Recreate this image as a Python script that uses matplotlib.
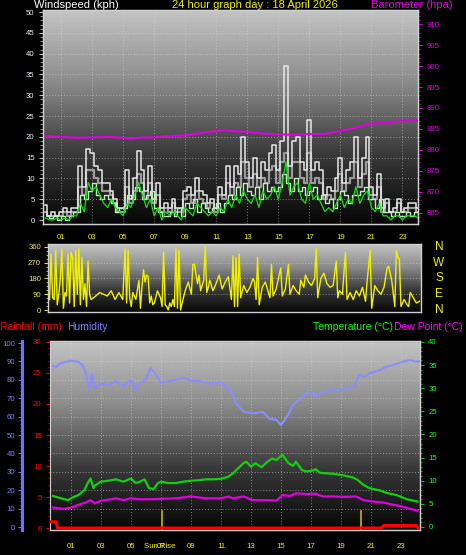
import numpy as np
import matplotlib
matplotlib.use("Agg")
import matplotlib.pyplot as plt
from matplotlib.colors import LinearSegmentedColormap
from matplotlib.ticker import MultipleLocator, FixedLocator
import matplotlib.transforms as mtransforms

plt.rcParams['font.family'] = ['Liberation Sans', 'DejaVu Sans']

# ---------------- DATA ----------------
title_text = "24 hour graph day : 18 April 2026"
hour_ticks = [1, 3, 5, 7, 9, 11, 13, 15, 17, 19, 21, 23]
hour_labels = ["01", "03", "05", "07", "09", "11", "13", "15", "17", "19", "21", "23"]

wind_t = np.arange(0, 24.01, 0.25)
wind_gust = [3.5, 1, 2, 1,  2, 3, 2, 3,  3, 13, 8, 17,  16, 13, 12, 9,
             9, 7, 5, 3,  3, 12, 5, 10,  16.5, 12, 7, 13,  5, 9, 3, 4,
             3, 5, 3, 3,  7, 8, 6, 10,  7, 6, 4, 5,  3, 8, 6, 13,
             8, 13, 11, 20,  14, 10, 15, 10,  14, 12, 16, 18,  12, 19, 37, 13,
             19, 20, 14, 12,  24, 12, 14, 12,  6, 8, 7, 10,  15, 9, 12, 14,
             20, 10, 15, 20,  8, 6, 11, 3,  5, 2, 3, 5,  2, 3, 4, 4,  3]
wind_gust_avg = [2, 1, 1, 1,  1, 2, 1, 2,  2, 8, 6, 12,  12, 10, 9, 7,
                 7, 6, 4, 2,  2, 8, 4, 7,  11, 9, 5, 9,  4, 6, 2, 3,
                 2, 4, 2, 2,  5, 6, 4, 7,  5, 4, 3, 4,  2, 6, 5, 9,
                 6, 9, 8, 14,  10, 8, 11, 8,  10, 9, 12, 13,  9, 14, 16, 10,
                 14, 14, 10, 9,  16, 9, 10, 9,  5, 6, 5, 7,  11, 7, 9, 10,
                 14, 8, 11, 14,  6, 5, 8, 2,  4, 2, 2, 4,  2, 2, 3, 3,  2]
wind_speed = [1, 0.5, 1, 0,  1, 0, 1, 2,  2, 6, 5, 7,  9, 6, 5, 6,
              5, 4, 2, 3,  3, 6, 5, 8,  7, 5, 6, 7,  3, 2, 1, 1,
              2, 1, 3, 1,  4, 3, 5, 2,  4, 3, 2, 3,  4, 2, 4, 6,
              5, 8, 6, 9,  7, 6, 8, 5,  9, 7, 8, 7,  8, 11, 9, 7,
              10, 7, 8, 6,  7, 8, 5, 6,  4, 5, 3, 5,  7, 6, 4, 6,
              6, 7, 8, 5,  5, 3, 5, 2,  2, 1, 2, 1,  1, 2, 1, 2,  1]
wind_avg = [0.5, 0, 0, 0.5,  0, 0.5, 0, 1,  1, 4, 2, 9,  7, 8, 6, 4,
            3, 5, 3, 2,  1, 4, 3, 6,  9, 6, 3, 5,  1, 3, 0, 2,
            1, 2, 1, 0,  3, 2, 1, 4,  3, 2, 1, 2,  1, 3, 2, 5,
            3, 6, 4, 7,  5, 4, 6, 3,  7, 5, 6, 8,  5, 9, 14, 6,
            8, 9, 5, 4,  9, 5, 6, 4,  2, 3, 2, 4,  6, 3, 5, 4,
            8, 4, 6, 7,  3, 2, 4, 1,  1, 0, 1, 1,  0, 1, 1, 1,  0.5]

baro_t = [0, 1, 2, 3, 4, 5, 5.5, 6, 7, 8, 9, 10, 11, 11.5, 12, 13, 14, 15, 16,
          17, 18, 19, 20, 21, 22, 23, 24]
baro = [883.3, 883.1, 882.9, 883.0, 883.1, 882.9, 882.7, 882.9, 883.0, 883.3,
        883.5, 884.0, 884.5, 884.7, 884.5, 884.3, 883.9, 883.7, 883.6, 883.8,
        883.8, 884.5, 885.3, 886.3, 886.5, 886.9, 887.0]

dir_t = [0.0, 0.1, 0.2, 0.3, 0.4, 0.5, 0.6, 0.7, 0.8, 0.9, 1.0, 1.1, 1.2, 1.3, 1.4,
         1.5, 1.6, 1.7, 1.8, 1.9, 2.0, 2.1, 2.2, 2.3, 2.4, 2.5, 2.6, 2.7, 3.0, 3.25,
         3.5, 3.75, 4.0, 4.25, 4.5, 4.75, 4.9, 5.0, 5.1, 5.2, 5.3, 5.4, 5.6, 5.8,
         5.9, 6.0, 6.1, 6.2, 6.3, 6.4, 6.5, 6.6, 6.7, 6.8, 7.0, 7.2, 7.3, 7.4, 7.5,
         7.6, 7.7, 7.8, 7.9, 8.0, 8.1, 8.2, 8.3, 8.4, 8.5, 8.6, 8.8, 9.0, 9.2, 9.3,
         9.4, 9.6, 9.7, 9.8, 10.0, 10.1, 10.2, 10.3, 10.4, 10.6, 10.8, 11.0, 11.2,
         11.4, 11.6, 11.8, 11.9, 12.0, 12.1, 12.2, 12.3, 12.4, 12.6, 12.8, 13.0,
         13.2, 13.3, 13.4, 13.5, 13.6, 13.8, 14.0, 14.2, 14.3, 14.4, 14.5, 14.7,
         14.8, 15.0, 15.1, 15.3, 15.5, 15.6, 15.8, 16.0, 16.2, 16.3, 16.5, 16.6,
         16.8, 17.0, 17.2, 17.3, 17.4, 17.6, 17.8, 18.0, 18.2, 18.4, 18.6, 18.7,
         18.8, 19.0, 19.2, 19.3, 19.5, 19.7, 19.9, 20.1, 20.3, 20.5, 20.6, 20.8,
         20.9, 21.1, 21.3, 21.5, 21.7, 21.9, 22.0, 22.2, 22.4, 22.5, 22.6, 22.7,
         22.8, 23.0, 23.2, 23.3, 23.4, 23.6, 23.8, 24.0]
dir_deg = [60, 320, 70, 60, 340, 30, 90, 180, 350, 10, 100, 80, 320, 40, 330,
           300, 20, 340, 90, 350, 30, 300, 60, 150, 20, 280, 90, 60, 80, 100,
           90, 80, 110, 60, 100, 60, 350, 40, 340, 70, 20, 100, 60, 170,
           10, 140, 230, 160, 200, 190, 40, 80, 30, 40, 110, 70, 20, 330, 30,
           20, 0, 40, 20, 60, 20, 350, 10, 340, 0, 40, 110, 160, 90, 260,
           260, 150, 200, 110, 170, 360, 100, 130, 170, 110, 150, 200, 120,
           160, 190, 60, 310, 20, 300, 20, 320, 70, 140, 100, 130,
           180, 160, 60, 300, 30, 130, 160, 100, 70, 260, 80, 120,
           160, 240, 80, 120, 260, 90, 140, 110, 90, 170, 130, 200,
           160, 140, 180, 350, 70, 180, 210, 150, 130, 140, 280, 70,
           110, 90, 330, 60, 100, 60, 110, 80, 130, 50, 160, 340,
           10, 140, 110, 90, 130, 240, 250, 170, 20, 340, 300, 290,
           20, 60, 30, 20, 100, 70, 40, 50]

hum_t = [-0.2, 0.0, 0.3, 0.5, 1.0, 1.5, 1.8, 2.0, 2.2, 2.4, 2.6, 3.0, 3.5, 4.0, 4.5,
         5.0, 5.3, 5.6, 6.0, 6.3, 6.6, 7.0, 7.5, 8.0, 8.5, 9.0, 9.5, 10.0, 10.5,
         11.0, 11.3, 11.8, 12.0, 12.5, 13.1, 13.8, 14.2, 14.7, 15.0, 15.4, 15.8,
         16.2, 16.7, 17.1, 17.3, 17.8, 18.5, 19.1, 19.6, 19.9, 20.2, 20.6, 20.9,
         21.6, 22.0, 22.7, 23.1, 23.6, 24.0, 24.2]
humidity = [87.6, 87, 89, 89.5, 90.4, 89.8, 87.6, 83.5, 74.5, 83, 76, 78, 77.5,
            79.3, 76.5, 80, 74.7, 78.4, 80, 86.4, 83.5, 78.4, 79.3, 80.2, 81.1,
            79.3, 79.5, 78.4, 77.9, 78.7, 76.5, 71.7, 67.2, 62.7, 61.8, 62.5, 59,
            58.2, 55.4, 60, 66.3, 69, 72.7, 73, 70.7, 73.5, 74.5, 74.8, 75.9, 76.6,
            82.6, 81.7, 83.5, 85.3, 87.1, 88.6, 89.8, 90.8, 89.8, 90]

temp_t = [-0.2, 0.5, 0.8, 1.2, 1.5, 1.9, 2.1, 2.3, 2.5, 2.6, 3.0, 3.5, 4.0, 4.5,
          5.0, 5.3, 5.6, 5.9, 6.2, 6.5, 6.8, 7.0, 7.5, 8.0, 8.5, 9.0, 9.5, 10.0,
          10.5, 11.0, 11.5, 11.8, 12.5, 12.7, 13.0, 13.3, 13.7, 14.1, 14.4, 14.7,
          15.1, 15.5, 15.8, 16.0, 16.4, 16.7, 17.1, 17.3, 17.6, 18.5, 19.1, 19.8,
          20.1, 20.5, 20.9, 21.6, 22.0, 22.7, 23.4, 24.1]
temperature = [6.7, 6.05, 5.8, 6.55, 6.9, 8, 9.4, 10.5, 8.4, 9, 9.8, 10, 10.3,
               9.8, 10.5, 9.5, 9.8, 10.3, 8.4, 8.2, 9.5, 9.8, 9.5, 9.5, 9.8, 10,
               10.1, 10.3, 10.3, 10.4, 10.9, 11.6, 13.8, 14.1, 13, 13.8, 12.9,
               14.1, 14.8, 14.5, 15.6, 13.8, 13.2, 14.1, 12.3, 12, 12.2, 12.5,
               11.7, 11.5, 11.2, 10.7, 10.2, 9.1, 8.4, 7.9, 7.4, 6.9, 6, 5.5]

dew_t = [-0.2, 0.5, 1.0, 1.5, 2.0, 2.3, 2.6, 3.0, 3.5, 4.0, 4.5, 5.0, 5.5, 6.0,
         6.5, 7.0, 8.0, 9.0, 10.0, 11.0, 11.5, 11.8, 12.5, 13.1, 14.1, 14.7,
         15.1, 15.6, 16.0, 16.7, 17.3, 17.8, 18.5, 19.1, 20.0, 20.5, 21.1, 21.8,
         22.5, 23.1, 24.1]
dew_point = [4.2, 3.9, 4.2, 4.8, 5.3, 5.8, 5.1, 5.7, 5.9, 6.2, 5.8, 6.2, 6.0, 6.0,
             6.0, 6.1, 6.2, 6.6, 6.2, 6.2, 6.6, 6.2, 6.6, 5.8, 5.8, 5.7, 6.9, 6.7,
             7.3, 7.1, 7.2, 6.6, 6.6, 6.5, 6.6, 5.8, 5.5, 5.3, 4.8, 4.4, 3.5]

rain_t = [-0.3, 0.0, 0.1, 21.7, 21.85, 24.0, 24.15]
rainfall = [1.0, 1.0, 0.0, 0.0, 0.4, 0.4, 0.0]

sunrise = 7.07
sunset = 20.33

# ---------------- STYLE ----------------
W, H = 466, 555
fig = plt.figure(figsize=(W / 100, H / 100), dpi=100, facecolor='black')

def px_axes(x0, y0, x1, y1):
    return fig.add_axes([x0 / W, 1 - y1 / H, (x1 - x0) / W, (y1 - y0) / H])

cmap_bg = LinearSegmentedColormap.from_list('bg', ['#060606', '#3a3a3a', '#8c8c8c', '#c4c4c4'])
GRID = dict(color='#d8d8d8', linestyle=(0, (1, 2)), linewidth=0.7, alpha=0.55)
YELLOW = '#f0f000'
MAG = '#e000e0'

def background(ax):
    grad = np.linspace(1, 0, 256).reshape(-1, 1)
    ax.imshow(grad, extent=[0, 1, 0, 1], transform=ax.transAxes, aspect='auto',
              cmap=cmap_bg, zorder=0, interpolation='bilinear')
    ax.set_facecolor('black')
    for s in ax.spines.values():
        s.set_color('#d0d0d0')
        s.set_linewidth(1)

TS = 5.6

# ---------------- TOP: wind + barometer ----------------
axw = px_axes(43, 10, 418, 224)
background(axw)
axw.step(wind_t, wind_gust_avg, where='mid', color='#9a9a9a', lw=1.6, zorder=2)
axw.step(wind_t, wind_gust, where='mid', color='#e8e8e8', lw=1.1, zorder=3)
axw.step(wind_t + 0.125, wind_speed, where='mid', color='#b8f0b8', lw=1.0, zorder=4)
axw.plot(wind_t, wind_avg, color='#10e010', lw=0.9, zorder=5)
axw.set_xlim(-0.16, 24.0)
axw.set_ylim(-0.96, 50.5)
axw.yaxis.set_major_locator(MultipleLocator(5))
axw.yaxis.set_minor_locator(MultipleLocator(1))
axw.set_xticks(hour_ticks)
axw.set_xticklabels(hour_labels)
axw.tick_params(axis='x', length=0, pad=7, labelsize=TS, labelcolor=YELLOW)
axw.tick_params(axis='y', which='major', length=3, color='#c0c0c0', labelsize=TS,
                labelcolor='#e8f0ff', pad=3)
axw.tick_params(axis='y', which='minor', length=2, color='#a0a0a0')
for v in range(5, 50, 5):
    axw.axhline(v, zorder=1, **GRID)
for h in hour_ticks:
    axw.axvline(h, zorder=1, **GRID)

axp = axw.twinx()
axp.plot(baro_t, baro, color=MAG, lw=1.5, zorder=6)
axp.set_ylim(862.3, 913.4)
axp.yaxis.set_major_locator(MultipleLocator(5))
axp.yaxis.set_minor_locator(MultipleLocator(1))
axp.tick_params(axis='y', which='major', length=3, color=MAG, labelsize=TS,
                labelcolor=MAG, pad=3)
axp.tick_params(axis='y', which='minor', length=1.5, color=MAG)
for s in axp.spines.values():
    s.set_color('#d0d0d0')
axp.set_xlim(-0.16, 24.0)

fig.text(34 / W, 1 - 5 / H, "Windspeed (kph)", color='white', fontsize=8, va='center')
fig.text(172 / W, 1 - 5 / H, title_text, color=YELLOW, fontsize=8, va='center')
fig.text(371 / W, 1 - 5 / H, "Barometer (hpa)", color=MAG, fontsize=8, va='center')

# ---------------- MIDDLE: wind direction ----------------
axd = px_axes(48, 244, 421, 312)
background(axd)
axd.plot(dir_t, dir_deg, color='#f0f000', lw=1.0, zorder=3)
axd.set_xlim(-0.1, 24.1)
axd.set_ylim(-11.4, 377)
axd.set_xticks([])
axd.yaxis.set_major_locator(FixedLocator([0, 90, 180, 270, 360]))
axd.yaxis.set_minor_locator(MultipleLocator(22.5))
axd.tick_params(axis='y', which='major', length=3, color='#d8d840', labelsize=TS,
                labelcolor='#e8e860', pad=2)
axd.tick_params(axis='y', which='minor', length=1.5, color='#d8d840')
for v in [90, 180, 270]:
    axd.axhline(v, zorder=1, **GRID)
trans = mtransforms.blended_transform_factory(axd.transAxes, axd.transData)
for lab, v in zip(["N", "W", "S", "E", "N"], [360, 270, 180, 90, 0]):
    axd.text((439 - 48) / 373, v, lab, color=YELLOW, fontsize=8.5, ha='center',
             va='center', transform=trans, clip_on=False)

# ---------------- BOTTOM: humidity / rain / temperature ----------------
axh = px_axes(50, 341, 420, 530)
background(axh)
axh.plot(hum_t, humidity, color='#8c8cff', lw=1.5, zorder=3)
axh.set_xlim(-0.4, 24.27)
axh.set_ylim(-1.6, 101.1)
axh.spines['left'].set_position(('outward', 20))
axh.spines['left'].set_color('#7070ff')
axh.spines['left'].set_linewidth(2.2)
axh.yaxis.set_major_locator(MultipleLocator(10))
axh.yaxis.set_minor_locator(MultipleLocator(2))
axh.tick_params(axis='y', which='major', length=3, color='#7070ff', labelsize=TS,
                labelcolor='#8080ff', pad=2)
axh.tick_params(axis='y', which='minor', length=1.5, color='#7070ff')
axh.set_xticks(hour_ticks)
axh.set_xticklabels(hour_labels)
axh.tick_params(axis='x', length=0, pad=9, labelsize=TS, labelcolor=YELLOW)
for v in range(10, 100, 10):
    axh.axhline(v, zorder=1, **GRID)
for h in hour_ticks:
    axh.axvline(h, zorder=1, **GRID)
for s in [sunrise, sunset]:
    axh.plot([s, s], [-1.6, 8.5], color='#c8b400', lw=1.2, zorder=4)
axh.text(6.93, -1.6, "Sun Rise", color=YELLOW, fontsize=TS, ha='center', va='top',
         transform=axh.transData, zorder=5)
# shift "Sun Rise" to tick-label line
axh.texts[-1].set_transform(mtransforms.offset_copy(axh.transData, fig=fig, y=-9.2, units='points'))

axr = axh.twinx()
axr.yaxis.tick_left()
axr.spines['left'].set_visible(True)
axr.spines['left'].set_color('#d0d0d0')
axr.spines['right'].set_visible(False)
axr.plot(rain_t, rainfall, color='#ff0000', lw=2.2, zorder=4)
axr.set_xlim(-0.4, 24.27)
axr.set_ylim(-0.32, 30.16)
axr.yaxis.set_major_locator(MultipleLocator(5))
axr.yaxis.set_minor_locator(MultipleLocator(1))
axr.tick_params(axis='y', which='major', length=3, color='#e00000', labelsize=TS,
                labelcolor='#ff0000', pad=3)
axr.tick_params(axis='y', which='minor', length=1.5, color='#c00000')

axt = axh.twinx()
axt.plot(temp_t, temperature, color='#10d010', lw=1.6, zorder=5)
axt.plot(dew_t, dew_point, color=MAG, lw=1.6, zorder=5)
axt.set_xlim(-0.4, 24.27)
axt.set_ylim(-0.65, 40.2)
axt.yaxis.set_major_locator(MultipleLocator(5))
axt.yaxis.set_minor_locator(MultipleLocator(1))
axt.tick_params(axis='y', which='major', length=3, color='#10c010', labelsize=TS,
                labelcolor='#20ff20', pad=3)
axt.tick_params(axis='y', which='minor', length=1.5, color='#10c010')
for s in ['right', 'top', 'bottom']:
    axt.spines[s].set_color('#d0d0d0')
axt.spines['left'].set_visible(False)

fig.text(0 / W, 1 - 327 / H, "Rainfall (mm)", color='#ff0000', fontsize=7.5, va='center')
fig.text(67 / W, 1 - 327 / H, "Humidity", color='#8080ff', fontsize=7.5, va='center')
fig.text(313 / W, 1 - 327 / H, "Temperature (°C)", color='#00ff00', fontsize=7.5, va='center')
fig.text(394 / W, 1 - 327 / H, "Dew Point (°C)", color='#ff00ff', fontsize=7.5, va='center')

fig.savefig("out.png", dpi=100, facecolor='black')
